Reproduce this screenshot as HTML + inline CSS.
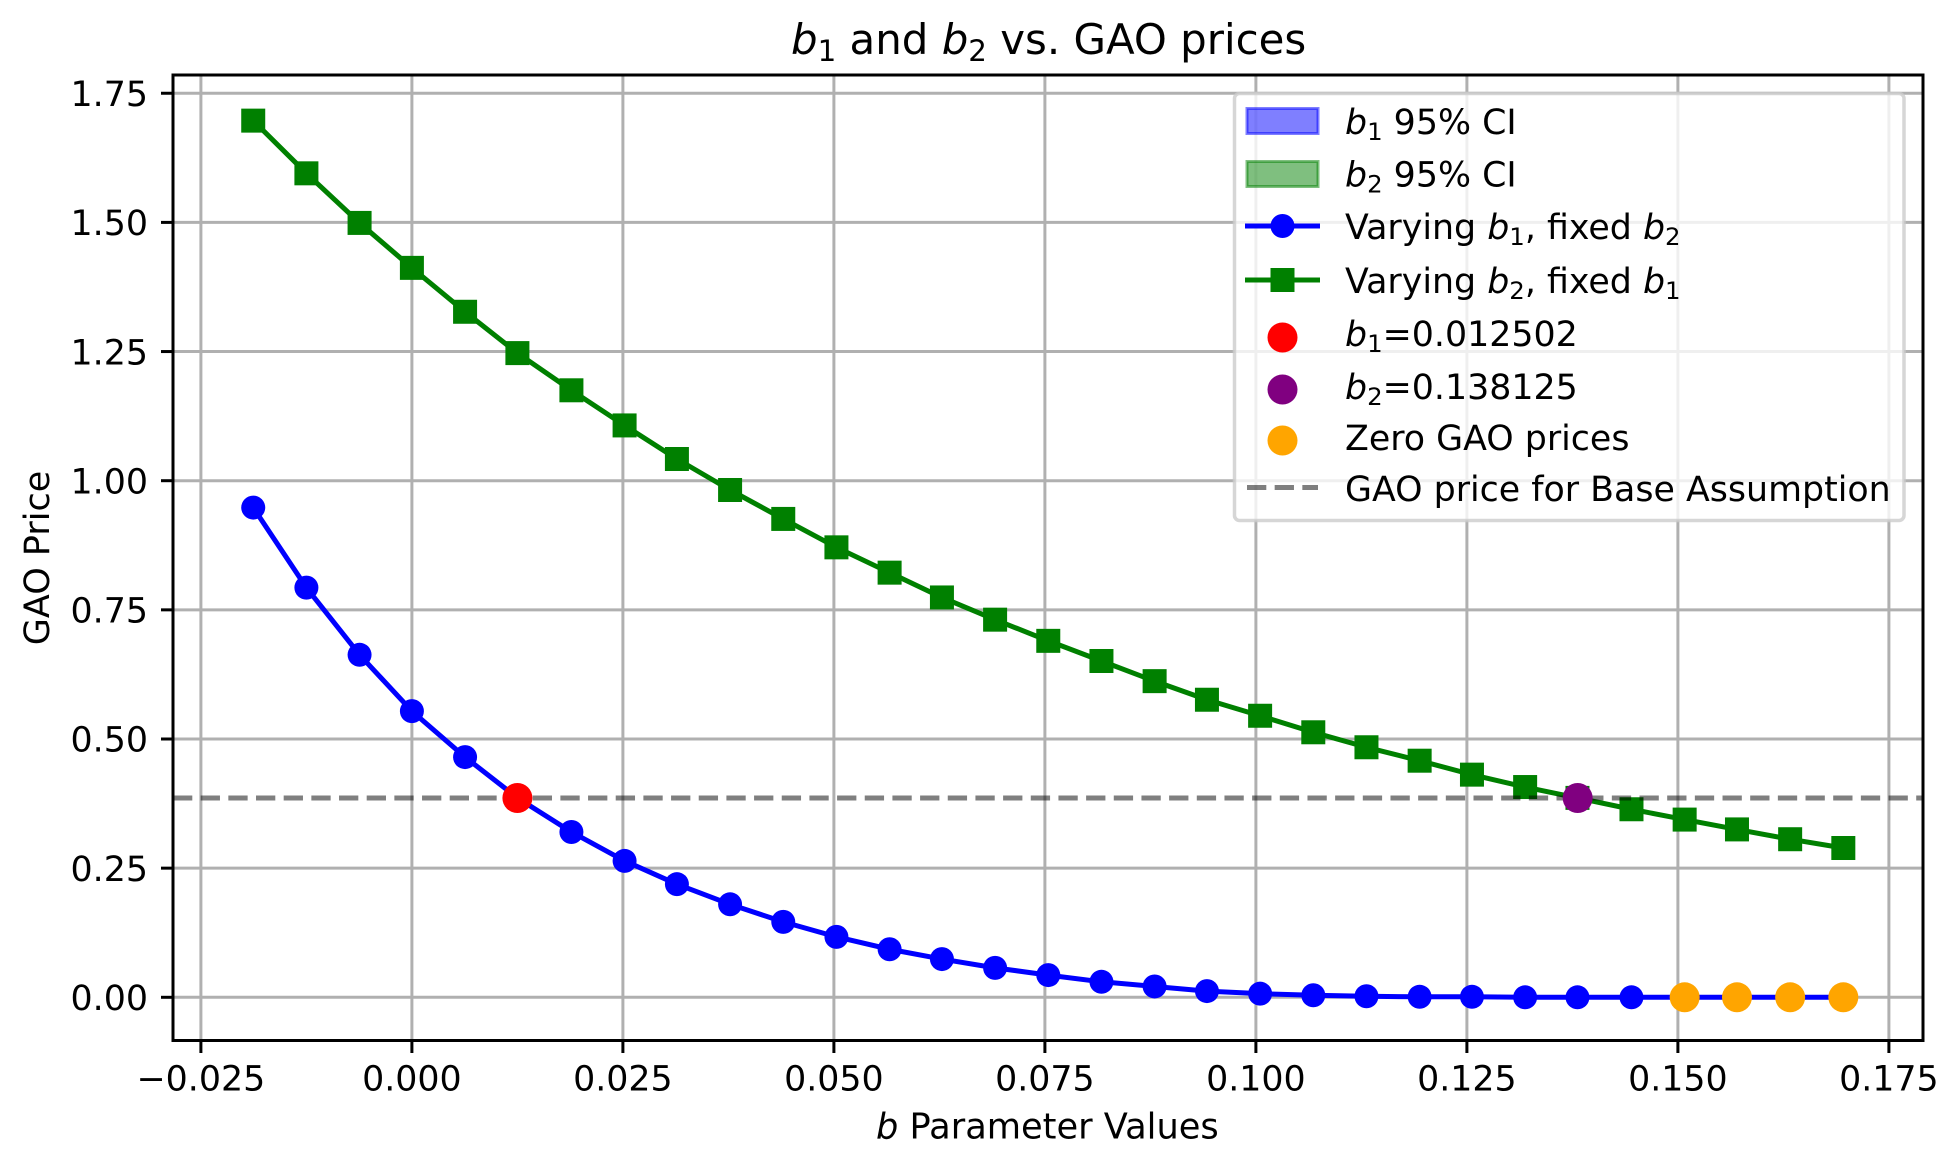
<!DOCTYPE html>
<html lang="en">
<head>
<meta charset="utf-8">
<title>b1 and b2 vs. GAO prices</title>
<style>
html,body{margin:0;padding:0;background:#fff;}
svg{display:block;}
text{font-family:"DejaVu Sans","Liberation Sans",sans-serif;fill:#000;}
.i{font-style:italic;}
</style>
</head>
<body>
<svg id="chart" xmlns="http://www.w3.org/2000/svg" width="1956" height="1162" viewBox="0 0 1956 1162">
  <rect x="0" y="0" width="1956" height="1162" fill="#fff"/>
  <g id="grid"></g>
  <g id="series"></g>
  <g id="frame"></g>
  <g id="ticks"></g>

  <text x="791" y="54" font-size="41.9"><tspan class="i">b</tspan><tspan font-size="29.3" dy="7">1</tspan><tspan dy="-7"> and </tspan><tspan class="i">b</tspan><tspan font-size="29.3" dy="7">2</tspan><tspan dy="-7"> vs. GAO prices</tspan></text>
  <text x="876" y="1138.5" font-size="35.2"><tspan class="i">b</tspan> Parameter Values</text>
  <text transform="translate(49,558) rotate(-90)" text-anchor="middle" font-size="35">GAO Price</text>

  <g id="legend">
    <rect x="1234.5" y="93.5" width="669.5" height="427" rx="5" ry="5" fill="#fff" fill-opacity="0.8" stroke="#ccc" stroke-opacity="0.8" stroke-width="3.5"/>

    <g>
      <rect x="1247" y="108.5" width="71" height="25" fill="#0000ff" fill-opacity="0.5" stroke="#0000ff" stroke-opacity="0.5" stroke-width="3"/>
      <text x="1345" y="134" font-size="34.8"><tspan class="i">b</tspan><tspan font-size="24.4" dy="6">1</tspan><tspan dy="-6"> 95% CI</tspan></text>
    </g>
    <g>
      <rect x="1247" y="161.5" width="71" height="25" fill="#008000" fill-opacity="0.5" stroke="#008000" stroke-opacity="0.5" stroke-width="3"/>
      <text x="1345" y="186.5" font-size="34.8"><tspan class="i">b</tspan><tspan font-size="24.4" dy="6">2</tspan><tspan dy="-6"> 95% CI</tspan></text>
    </g>
    <g>
      <line x1="1245" y1="226" x2="1320" y2="226" stroke="#0000ff" stroke-width="5"/>
      <circle cx="1282.5" cy="226" r="12" fill="#0000ff"/>
      <text x="1345" y="239.2" font-size="34.8">Varying <tspan class="i">b</tspan><tspan font-size="24.4" dy="6">1</tspan><tspan dy="-6">, fixed </tspan><tspan class="i">b</tspan><tspan font-size="24.4" dy="6">2</tspan></text>
    </g>
    <g>
      <line x1="1245" y1="280" x2="1320" y2="280" stroke="#008000" stroke-width="5"/>
      <rect x="1270.5" y="268" width="24" height="24" fill="#008000"/>
      <text x="1345" y="293" font-size="34.8">Varying <tspan class="i">b</tspan><tspan font-size="24.4" dy="6">2</tspan><tspan dy="-6">, fixed </tspan><tspan class="i">b</tspan><tspan font-size="24.4" dy="6">1</tspan></text>
    </g>
    <g>
      <circle cx="1282.5" cy="337.5" r="15" fill="#ff0000"/>
      <text x="1345" y="346" font-size="34.8"><tspan class="i">b</tspan><tspan font-size="24.4" dy="6">1</tspan><tspan dy="-6">=0.012502</tspan></text>
    </g>
    <g>
      <circle cx="1282.5" cy="389.5" r="15" fill="#800080"/>
      <text x="1345" y="399" font-size="34.8"><tspan class="i">b</tspan><tspan font-size="24.4" dy="6">2</tspan><tspan dy="-6">=0.138125</tspan></text>
    </g>
    <g>
      <circle cx="1282.5" cy="440.5" r="15" fill="#ffa500"/>
      <text x="1345" y="450" font-size="34.8">Zero GAO prices</text>
    </g>
    <g>
      <line x1="1247" y1="487.5" x2="1318" y2="487.5" stroke="#000" stroke-opacity="0.5" stroke-width="5" stroke-dasharray="19.3 8.37"/>
      <text x="1345" y="501" font-size="34.8">GAO price for Base Assumption</text>
    </g>
  </g>
</svg>
<script>
const bValues = [-0.0188,-0.0125,-0.0062,0.0000,0.0063,0.0125,0.0189,0.0252,0.0314,0.0377,0.0440,0.0503,0.0566,0.0628,0.0691,0.0754,0.0817,0.0880,0.0942,0.1005,0.1068,0.1131,0.1194,0.1256,0.1319,0.1381,0.1445,0.1508,0.1570,0.1633,0.1696];
const b1Prices = [0.948,0.793,0.663,0.554,0.465,0.386,0.320,0.264,0.219,0.180,0.146,0.117,0.093,0.074,0.057,0.043,0.030,0.021,0.012,0.007,0.004,0.002,0.001,0.001,0.000,0.000,0.000,0.000,0.000,0.000,0.000];
const b2Prices = [1.697,1.595,1.499,1.412,1.327,1.247,1.175,1.107,1.042,0.982,0.926,0.871,0.822,0.774,0.731,0.690,0.651,0.612,0.576,0.545,0.513,0.484,0.458,0.431,0.407,0.386,0.364,0.344,0.325,0.306,0.289];
const xTicks = [-0.025,0,0.025,0.05,0.075,0.1,0.125,0.15,0.175];
const xTickLabels = ["\u22120.025","0.000","0.025","0.050","0.075","0.100","0.125","0.150","0.175"];
const yTicks = [0,0.25,0.5,0.75,1,1.25,1.5,1.75];
const yTickLabels = ["0.00","0.25","0.50","0.75","1.00","1.25","1.50","1.75"];
const basePrice = 0.3858;
const b1Solution = [0.012502, 0.3858];
const b2Solution = [0.138125, 0.3858];
const zeroB = [0.1508,0.1570,0.1633,0.1696];
const zeroPrices = [0,0,0,0];

const NS = 'http://www.w3.org/2000/svg';
const left = 173, right = 1923, top_ = 75, bottom = 1040.5;
function xScale(v){ return 411.9 + 8440 * v; }
function yScale(v){ return 997.3 - 516.6 * v; }
function make(parent, tag, attrs){
  const el = document.createElementNS(NS, tag);
  for (const k in attrs) el.setAttribute(k, attrs[k]);
  parent.appendChild(el);
  return el;
}
const grid = document.getElementById('grid');
const series = document.getElementById('series');
const frame = document.getElementById('frame');
const ticks = document.getElementById('ticks');

xTicks.forEach(function(v, i){
  const g = make(grid, 'line', {x1:xScale(v), x2:xScale(v), y1:top_, y2:bottom, stroke:'#b0b0b0', 'stroke-width':3});
  
  
  const t = make(ticks, 'line', {x1:xScale(v), x2:xScale(v), y1:bottom, y2:1053, stroke:'#000', 'stroke-width':3});
  
  
  const l = make(ticks, 'text', {x:xScale(v), y:1090.7, 'text-anchor':'middle', 'font-size':34.8});
  l.textContent = xTickLabels[i];
  
  
});
yTicks.forEach(function(v, i){
  const g = make(grid, 'line', {x1:left, x2:right, y1:yScale(v), y2:yScale(v), stroke:'#b0b0b0', 'stroke-width':3});
  
  
  const t = make(ticks, 'line', {x1:161, x2:left, y1:yScale(v), y2:yScale(v), stroke:'#000', 'stroke-width':3});
  
  
  const l = make(ticks, 'text', {x:148, y:yScale(v) + 12.7, 'text-anchor':'end', 'font-size':34.8});
  l.textContent = yTickLabels[i];
  
  
});

function pointsOf(vals){
  return vals.map(function(v, i){ return xScale(bValues[i]) + ',' + yScale(v); }).join(' ');
}
const b1Line = make(series, 'polyline', {points:pointsOf(b1Prices), fill:'none', stroke:'#0000ff', 'stroke-width':5, 'stroke-linejoin':'round'});


b1Prices.forEach(function(v, i){
  const c = make(series, 'circle', {cx:xScale(bValues[i]), cy:yScale(v), r:12, fill:'#0000ff'});
  
  
});
const b2Line = make(series, 'polyline', {points:pointsOf(b2Prices), fill:'none', stroke:'#008000', 'stroke-width':5, 'stroke-linejoin':'round'});


b2Prices.forEach(function(v, i){
  const c = make(series, 'rect', {x:xScale(bValues[i]) - 12, y:yScale(v) - 12, width:24, height:24, fill:'#008000'});
  
  
});
const base = make(series, 'line', {x1:left, x2:right, y1:yScale(basePrice), y2:yScale(basePrice), stroke:'#000', 'stroke-opacity':0.5, 'stroke-width':5, 'stroke-dasharray':'19.3 8.37'});



const redDot = make(series, 'circle', {cx:xScale(b1Solution[0]), cy:yScale(b1Solution[1]), r:15, fill:'#ff0000'});


const purpleDot = make(series, 'circle', {cx:xScale(b2Solution[0]), cy:yScale(b2Solution[1]), r:15, fill:'#800080'});


zeroB.forEach(function(v, i){
  const c = make(series, 'circle', {cx:xScale(v), cy:yScale(zeroPrices[i]), r:15, fill:'#ffa500'});
  
  
});

const spine = make(frame, 'rect', {x:left, y:top_, width:right - left, height:bottom - top_, fill:'none', stroke:'#000', 'stroke-width':3});


</script>
</body>
</html>
